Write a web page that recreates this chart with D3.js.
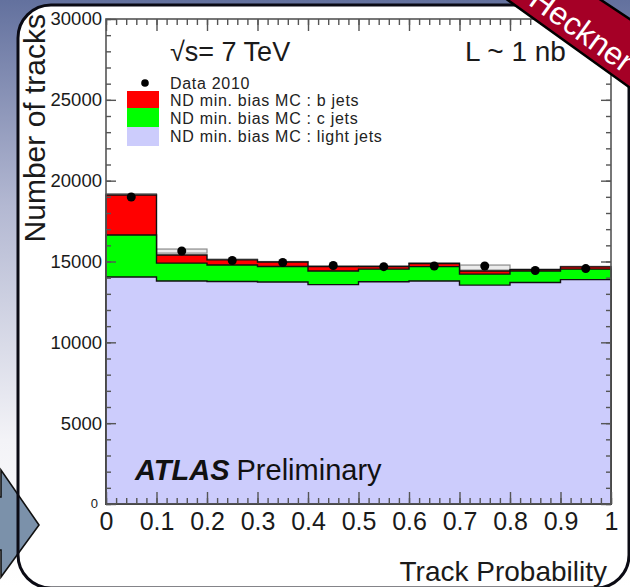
<!DOCTYPE html>
<html>
<head>
<meta charset="utf-8">
<script src="https://cdn.jsdelivr.net/npm/d3@7/dist/d3.min.js"></script>
<style>
  html, body { margin: 0; padding: 0; background: #fff; }
  svg { display: block; font-family: "Liberation Sans", Arial, sans-serif; }
</style>
</head>
<body>
<svg id="chart" width="630" height="587"></svg>
<script>
// Track probability bins (lower edges, width 0.1)
const binLow = [0.0, 0.1, 0.2, 0.3, 0.4, 0.5, 0.6, 0.7, 0.8, 0.9];
const binWidth = 0.1;

// Stacked MC contributions (tracks per bin)
const lightJets = [14040, 13790, 13760, 13730, 13570, 13750, 13790, 13540, 13700, 13880];
const cJets     = [2600, 1110, 1020, 960, 840, 780, 890, 680, 710, 650];
const bJets     = [2470, 500, 320, 280, 280, 160, 200, 190, 90, 140];

// MC uncertainty band (low / high edge)
const mcBandLo = [19080, 15520, 15100, 14970, 14690, 14690, 14880, 14470, 14500, 14670];
const mcBandHi = [19200, 15770, 15150, 15000, 14720, 14720, 14910, 14780, 14530, 14700];

// Data 2010
const dataCounts = [18990, 15650, 15060, 14940, 14750, 14680, 14720, 14720, 14440, 14560];

// Axis ticks
const yMajorTicks = [0, 5000, 10000, 15000, 20000, 25000, 30000];
const yLabelTicks = [5000, 10000, 15000, 20000, 25000, 30000];
const xMajorTicks = [0, 0.1, 0.2, 0.3, 0.4, 0.5, 0.6, 0.7, 0.8, 0.9, 1];
const xTickLabels = ["0", "0.1", "0.2", "0.3", "0.4", "0.5", "0.6", "0.7", "0.8", "0.9", "1"];

const legendLabels = [
  "Data 2010",
  "ND min. bias MC : b jets",
  "ND min. bias MC : c jets",
  "ND min. bias MC : light jets"
];
const colB = "#ff0000", colC = "#00ff00", colLight = "#ccccfc";

const svg = d3.select("#chart");
const W = 630, H = 587;

// ---------- slide backdrop ----------
const defs = svg.append("defs");
const grad = defs.append("linearGradient").attr("id", "bg").attr("x1", 0).attr("y1", 0).attr("x2", 0).attr("y2", 1);
grad.append("stop").attr("offset", "0").attr("stop-color", "#63719e");
grad.append("stop").attr("offset", "0.35").attr("stop-color", "#b3b8d2");
grad.append("stop").attr("offset", "0.75").attr("stop-color", "#f3f3f7");
grad.append("stop").attr("offset", "1").attr("stop-color", "#ffffff");
svg.append("rect").attr("width", W).attr("height", H).attr("fill", "url(#bg)");

const panel = { x: 18, y: 5, w: 611, h: 583, r: 33 };
svg.append("rect").attr("x", panel.x).attr("y", panel.y).attr("width", panel.w).attr("height", panel.h)
  .attr("rx", panel.r).attr("fill", "#fff");

// navigation arrow at the left edge
svg.append("path")
  .attr("d", "M-5,497 L1,497 L1,470 L39,525 L1,577 L1,550 L-5,550 Z")
  .attr("fill", "#7b91aa").attr("stroke", "#111").attr("stroke-width", 1.6);

svg.append("rect").attr("x", panel.x).attr("y", panel.y).attr("width", panel.w).attr("height", panel.h)
  .attr("rx", panel.r).attr("fill", "none").attr("stroke", "#0b0b14").attr("stroke-width", 3);

// ---------- chart ----------
const x = d3.scaleLinear().domain([0, 1]).range([106, 611]);
const y = d3.scaleLinear().domain([0, 30000]).range([504, 19]);

const g = svg.append("g");

// cumulative stack tops
const topLight = lightJets.slice();
const topC = lightJets.map((v, i) => v + cJets[i]);
const topB = topC.map((v, i) => v + bJets[i]);

// step-shaped filled histogram path from zero up to given tops
function stepPath(tops) {
  let d = `M${x(binLow[0])},${y(0)}`;
  tops.forEach((t, i) => {
    d += `L${x(binLow[i])},${y(t)}L${x(binLow[i] + binWidth)},${y(t)}`;
  });
  d += `L${x(binLow[binLow.length - 1] + binWidth)},${y(0)}Z`;
  return d;
}

// MC uncertainty band, under the stack
g.append("g").selectAll("rect").data(binLow).join("rect")
  .attr("x", d => x(d))
  .attr("width", x(binWidth) - x(0))
  .attr("y", (d, i) => y(mcBandHi[i]))
  .attr("height", (d, i) => y(mcBandLo[i]) - y(mcBandHi[i]))
  .attr("fill", "#ececec").attr("stroke", "#8a8a8a").attr("stroke-width", 1.2);

[[topB, colB], [topC, colC], [topLight, colLight]].forEach(([tops, col]) => {
  g.append("path").attr("d", stepPath(tops))
    .attr("fill", col).attr("stroke", "#111").attr("stroke-width", 1.4);
});

// data points
g.append("g").selectAll("circle").data(dataCounts).join("circle")
  .attr("cx", (d, i) => x(binLow[i] + binWidth / 2))
  .attr("cy", d => y(d))
  .attr("r", 4.5).attr("fill", "#000");

// ---------- axes (ticks drawn inward) ----------
const tickCol = "#555";
function styleAxis(sel) {
  sel.select(".domain").remove();
  sel.selectAll("line").attr("stroke", tickCol).attr("stroke-width", 1.4);
}
const yMinor = d3.range(0, 30001, 1000);
const xMinor = d3.range(0, 1.0001, 0.02);

// left
svg.append("g").attr("transform", "translate(106,0)")
  .call(d3.axisRight(y).tickValues(yMinor).tickSize(5).tickFormat("")).call(styleAxis);
svg.append("g").attr("transform", "translate(106,0)")
  .call(d3.axisRight(y).tickValues(yMajorTicks).tickSize(10).tickFormat("")).call(styleAxis);
// right
svg.append("g").attr("transform", "translate(611,0)")
  .call(d3.axisLeft(y).tickValues(yMinor).tickSize(5).tickFormat("")).call(styleAxis);
svg.append("g").attr("transform", "translate(611,0)")
  .call(d3.axisLeft(y).tickValues(yMajorTicks).tickSize(10).tickFormat("")).call(styleAxis);
// bottom
svg.append("g").attr("transform", "translate(0,504)")
  .call(d3.axisTop(x).tickValues(xMinor).tickSize(6).tickFormat("")).call(styleAxis);
svg.append("g").attr("transform", "translate(0,504)")
  .call(d3.axisTop(x).tickValues(xMajorTicks).tickSize(12).tickFormat("")).call(styleAxis);
// top
svg.append("g").attr("transform", "translate(0,19)")
  .call(d3.axisBottom(x).tickValues(xMinor).tickSize(6).tickFormat("")).call(styleAxis);
svg.append("g").attr("transform", "translate(0,19)")
  .call(d3.axisBottom(x).tickValues(xMajorTicks).tickSize(12).tickFormat("")).call(styleAxis);

// frame
svg.append("rect").attr("x", x(0)).attr("y", y(30000)).attr("width", x(1) - x(0)).attr("height", y(0) - y(30000))
  .attr("fill", "none").attr("stroke", tickCol).attr("stroke-width", 1.6);

// tick labels
const yLab = svg.append("g").attr("transform", "translate(106,0)")
  .call(d3.axisLeft(y).tickValues(yLabelTicks).tickSize(0).tickPadding(4).tickFormat(d3.format("d")));
yLab.select(".domain").remove();
yLab.selectAll("text").attr("font-size", 18.5).attr("fill", "#1a1a1a")
  .attr("font-family", "Liberation Sans, Arial, sans-serif");
svg.append("text").attr("x", 98).attr("y", 508).attr("text-anchor", "end")
  .attr("font-size", 13).attr("fill", "#1a1a1a").text("0");

const xLab = svg.append("g").attr("transform", "translate(0,504)")
  .call(d3.axisBottom(x).tickValues(xMajorTicks).tickSize(0).tickPadding(8)
    .tickFormat((d, i) => xTickLabels[i]));
xLab.select(".domain").remove();
xLab.selectAll("text").attr("font-size", 25).attr("fill", "#1a1a1a")
  .attr("font-family", "Liberation Sans, Arial, sans-serif");

// axis titles
svg.append("text").attr("x", 607).attr("y", 581).attr("text-anchor", "end")
  .attr("font-size", 28).attr("fill", "#1a1a1a").text("Track Probability");
svg.append("text").attr("transform", "translate(45,14) rotate(-90)").attr("text-anchor", "end")
  .attr("font-size", 30).attr("fill", "#1a1a1a").text("Number of tracks");

// annotations
svg.append("text").attr("x", 170).attr("y", 61).attr("font-size", 27).attr("fill", "#1a1a1a").text("√s= 7 TeV");
svg.append("text").attr("x", 465).attr("y", 61).attr("font-size", 28).attr("fill", "#1a1a1a").text("L ~ 1 nb");

const atlas = svg.append("text").attr("x", 135).attr("y", 480).attr("font-size", 29).attr("fill", "#111");
atlas.append("tspan").attr("font-weight", "bold").attr("font-style", "italic").text("ATLAS");
atlas.append("tspan").attr("dx", 7).text("Preliminary");

// legend
const leg = svg.append("g");
const legRowY = [83, 100, 118, 136];
leg.append("circle").attr("cx", 145).attr("cy", legRowY[0]).attr("r", 3.8).attr("fill", "#000");
[[colB, 91, 108], [colC, 108, 127], [colLight, 127, 146]].forEach(([c, y0, y1]) => {
  leg.append("rect").attr("x", 127).attr("y", y0).attr("width", 32).attr("height", y1 - y0).attr("fill", c);
});
leg.selectAll("text").data(legendLabels).join("text")
  .attr("x", 170).attr("y", (d, i) => legRowY[i] + 6)
  .attr("font-size", 16).attr("letter-spacing", 0.7).attr("fill", "#222").text(d => d);

// corner ribbon
const rib = svg.append("g");
rib.append("path")
  .attr("d", "M505,-2 L640,95 L640,26 L598,-2 Z")
  .attr("fill", "#a50026").attr("stroke", "#000").attr("stroke-width", 2.5);
rib.append("text")
  .attr("transform", "translate(582,30) rotate(35.8)")
  .attr("text-anchor", "middle").attr("dominant-baseline", "central")
  .attr("font-size", 32).attr("fill", "#fff").text("Heckner");
</script>
</body>
</html>
